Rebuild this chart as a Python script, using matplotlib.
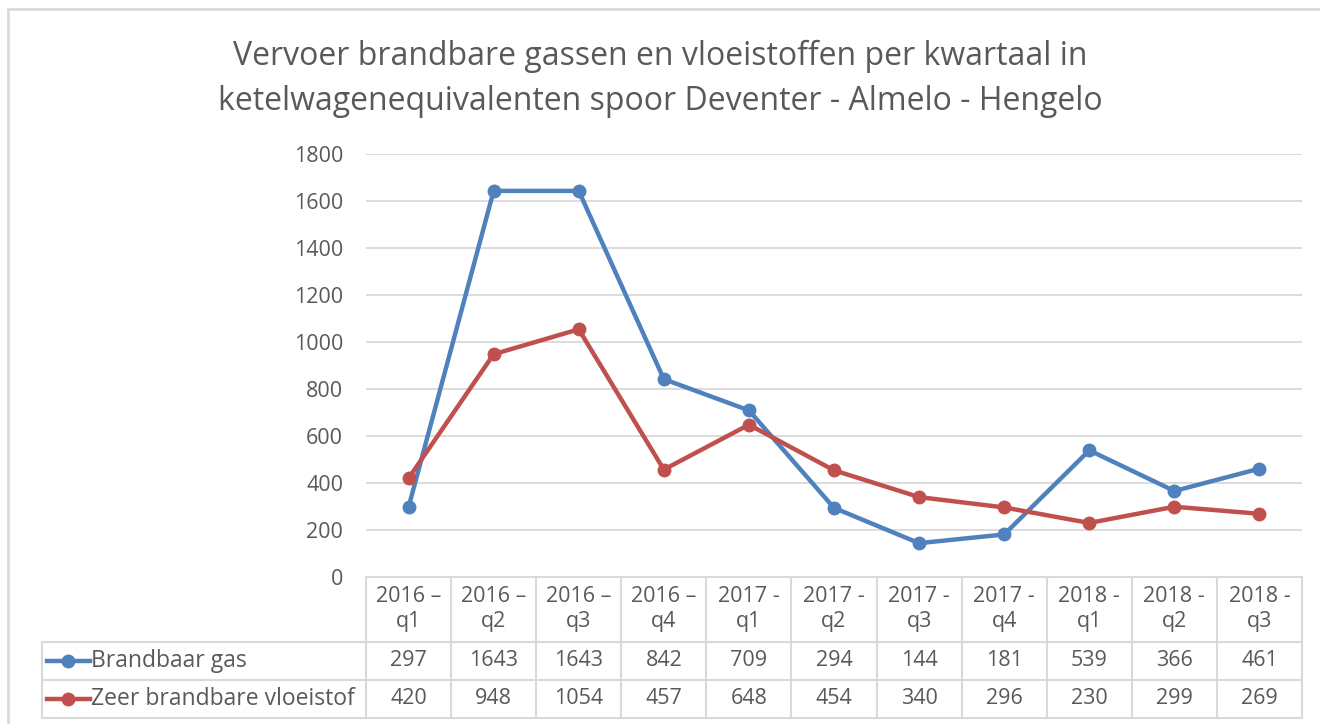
import matplotlib.pyplot as plt
from matplotlib.lines import Line2D
from matplotlib.patches import Rectangle
from matplotlib.transforms import blended_transform_factory

plt.rcParams['font.family'] = ['Open Sans', 'DejaVu Sans']

# data
kwartalen = ["2016 –\nq1", "2016 –\nq2", "2016 –\nq3", "2016 –\nq4",
             "2017 -\nq1", "2017 -\nq2", "2017 -\nq3", "2017 -\nq4",
             "2018 -\nq1", "2018 -\nq2", "2018 -\nq3"]
brandbaar_gas = [297, 1643, 1643, 842, 709, 294, 144, 181, 539, 366, 461]
vloeistof = [420, 948, 1054, 457, 648, 454, 340, 296, 230, 299, 269]
reeksen = ["Brandbaar gas", "Zeer brandbare vloeistof"]

blauw = '#4F81BD'
rood = '#C0504D'
tekst = '#595959'
rand = '#d9d9d9'
fs = 15.5

W, H = 1320, 724
fig = plt.figure(figsize=(W / 100, H / 100), dpi=100)

def fy(y):
    # pixel y (van boven) naar figuur-fractie
    return 1 - y / H

def fx(x):
    return x / W

# buitenrand
fig.add_artist(Rectangle((fx(8), fy(740)), 1.1, fy(9) - fy(740), transform=fig.transFigure,
                         fill=False, edgecolor=rand, linewidth=2))

ax = fig.add_axes([fx(366), fy(577), fx(1302) - fx(366), fy(154) - fy(577)])
n = len(kwartalen)
x = list(range(n))
ax.plot(x, brandbaar_gas, color=blauw, linewidth=3.2, marker='o', markersize=9, zorder=3)
ax.plot(x, vloeistof, color=rood, linewidth=3.2, marker='o', markersize=9, zorder=3)
ax.set_xlim(-0.5, n - 0.5)
ax.set_ylim(0, 1800)
ax.set_yticks(range(0, 1801, 200))
ax.grid(axis='y', color=rand, linewidth=1.3)
ax.set_axisbelow(True)
for s in ax.spines.values():
    s.set_visible(False)
ax.set_xticks([])
ax.tick_params(axis='y', length=0, pad=16.5, labelsize=fs, labelcolor=tekst)

fig.text(0.5, fy(56), "Vervoer brandbare gassen en vloeistoffen per kwartaal in",
         ha='center', va='center', fontsize=23, color=tekst)
fig.text(0.5, fy(101), "ketelwagenequivalenten spoor Deventer - Almelo - Hengelo",
         ha='center', va='center', fontsize=23, color=tekst)

# datatabel
tr = blended_transform_factory(ax.transData, fig.transFigure)
y_top, y_kop, y_r1, y_r2 = fy(577), fy(642), fy(680), fy(718)
lijn = dict(color=rand, linewidth=1.5, clip_on=False)
ax.plot([-0.5, n - 0.5], [y_top, y_top], transform=tr, **lijn)
for i in range(n + 1):
    ax.plot([i - 0.5, i - 0.5], [y_top, y_r2], transform=tr, **lijn)
fig.add_artist(Line2D([fx(42), fx(1302)], [y_kop, y_kop], transform=fig.transFigure, **lijn))
fig.add_artist(Line2D([fx(42), fx(1302)], [y_r1, y_r1], transform=fig.transFigure, **lijn))
fig.add_artist(Line2D([fx(42), fx(1302)], [y_r2, y_r2], transform=fig.transFigure, **lijn))
fig.add_artist(Line2D([fx(42), fx(42)], [y_kop, y_r2], transform=fig.transFigure, **lijn))

for i, lab in enumerate(kwartalen):
    ax.text(i, (y_top + y_kop) / 2, lab, transform=tr, ha='center', va='center',
            fontsize=fs, color=tekst, linespacing=1.25)
    ax.text(i, (y_kop + y_r1) / 2, str(brandbaar_gas[i]), transform=tr, ha='center',
            va='center', fontsize=fs, color=tekst)
    ax.text(i, (y_r1 + y_r2) / 2, str(vloeistof[i]), transform=tr, ha='center',
            va='center', fontsize=fs, color=tekst)

for naam, kleur, (a, b) in zip(reeksen, [blauw, rood], [(y_kop, y_r1), (y_r1, y_r2)]):
    ym = (a + b) / 2
    fig.add_artist(Line2D([fx(47), fx(90)], [ym, ym], transform=fig.transFigure,
                          color=kleur, linewidth=3.2, marker=None))
    fig.add_artist(Line2D([fx(68)], [ym], transform=fig.transFigure, color=kleur,
                          marker='o', markersize=9))
    fig.text(fx(91), ym, naam, ha='left', va='center', fontsize=16.5, color=tekst)

fig.savefig('out.png', dpi=100)
